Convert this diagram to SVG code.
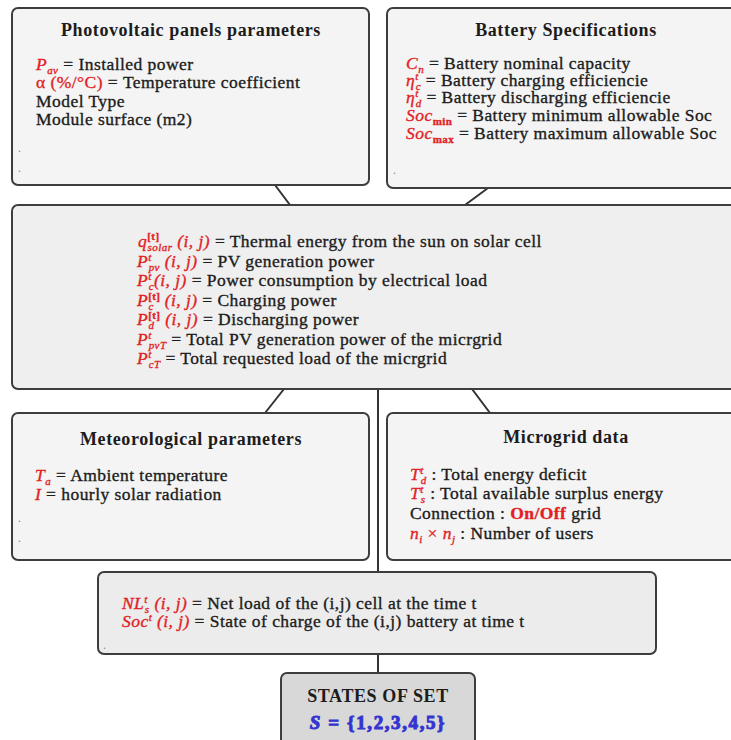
<svg xmlns="http://www.w3.org/2000/svg" width="731" height="740" viewBox="0 0 731 740" font-family="Liberation Serif, Times New Roman, DejaVu Serif, serif">
<style>
.bg{fill:#ffffff}
.box{fill:#f4f4f4;stroke:#3d3d3d;stroke-width:2}
.mid{fill:#efefef;stroke:#3d3d3d;stroke-width:2}
.nl{fill:#ececec;stroke:#3d3d3d;stroke-width:2}
.st{fill:#d8d8d8;stroke:#3d3d3d;stroke-width:2}
.c{stroke:#333333;stroke-width:2;fill:none}
.t{font-family:'Liberation Serif','Times New Roman',Times,serif;font-size:18px;font-weight:bold;fill:#1c1c1c;text-anchor:middle;letter-spacing:0.6px}
.b{font-family:'Liberation Serif','Times New Roman',Times,serif;font-size:17.5px;fill:#1c1c1c;stroke:#1c1c1c;stroke-width:0.35;letter-spacing:0.45px}
.m{fill:#e21f26;stroke:#e21f26;font-style:italic}
.r{fill:#e21f26;stroke:#e21f26}
.s{font-size:11px}
.d{font-size:12px;fill:#888888}
.blue{fill:#3434d0;stroke:#3434d0;font-weight:bold;font-size:19px;letter-spacing:1.6px}
</style>
<rect class="bg" x="0" y="0" width="731" height="740"/>

<g id="connectors">
<line class="c" x1="275" y1="185" x2="290" y2="205"/>
<line class="c" x1="488" y1="188" x2="465" y2="205"/>
<line class="c" x1="284" y1="389" x2="265" y2="413"/>
<line class="c" x1="472" y1="389" x2="490" y2="413"/>
<line class="c" x1="378" y1="389" x2="378" y2="572"/>
<line class="c" x1="378" y1="654" x2="378" y2="673"/>
</g>

<g id="pv-panels">
<rect class="box" x="12" y="8" width="357" height="177" rx="6"/>
<text class="t" x="191" y="36">Photovoltaic panels parameters</text>
<text class="b" x="36" y="70"><tspan class="m">P</tspan><tspan class="m s" dy="4">av</tspan><tspan dy="-4"> = Installed power</tspan></text>
<text class="b" x="36" y="88"><tspan class="r">α (%/°C)</tspan> = Temperature coefficient</text>
<text class="b" x="36" y="107">Model Type</text>
<text class="b" x="36" y="125">Module surface (m2)</text>
<text class="d" x="18" y="152">.</text>
<text class="d" x="18" y="172">.</text>
</g>

<g id="battery-specs">
<rect class="box" x="387" y="8" width="360" height="180" rx="6"/>
<text class="t" x="566" y="36">Battery Specifications</text>
<text class="b" x="406" y="69"><tspan class="m">C</tspan><tspan class="m s" dy="4">n</tspan><tspan dy="-4"> = Battery nominal capacity</tspan></text>
<text class="b" x="406" y="86"><tspan class="m">η</tspan><tspan class="m s" dy="-6">t</tspan><tspan class="m s" dx="-3" dy="10">c</tspan><tspan dy="-4"> = Battery charging efficiencie</tspan></text>
<text class="b" x="406" y="103"><tspan class="m">η</tspan><tspan class="m s" dy="-6">t</tspan><tspan class="m s" dx="-3" dy="10">d</tspan><tspan dy="-4"> = Battery discharging efficiencie</tspan></text>
<text class="b" x="406" y="121"><tspan class="m">Soc</tspan><tspan class="r s" font-weight="bold" dy="4">min</tspan><tspan dy="-4"> = Battery minimum allowable Soc</tspan></text>
<text class="b" x="406" y="139"><tspan class="m">Soc</tspan><tspan class="r s" font-weight="bold" dy="4">max</tspan><tspan dy="-4"> = Battery maximum allowable Soc</tspan></text>
<text class="d" x="393" y="174">.</text>
</g>

<g id="variables">
<rect class="mid" x="12" y="205" width="735" height="184" rx="6"/>
<text class="b" x="138" y="247"><tspan class="m">q</tspan><tspan class="r s" font-weight="bold" dy="-7">[t]</tspan><tspan class="m s" dx="-12" dy="11">solar</tspan><tspan class="m" dy="-4"> (i, j)</tspan><tspan> = Thermal energy from the sun on solar cell</tspan></text>
<text class="b" x="137" y="267"><tspan class="m">P</tspan><tspan class="m s" dy="-6">t</tspan><tspan class="m s" dx="-3" dy="10">pv</tspan><tspan class="m" dy="-4"> (i, j)</tspan><tspan> = PV generation power</tspan></text>
<text class="b" x="137" y="286"><tspan class="m">P</tspan><tspan class="m s" dy="-6">t</tspan><tspan class="m s" dx="-3" dy="10">c</tspan><tspan class="m" dy="-4">(i, j)</tspan><tspan> = Power consumption by electrical load</tspan></text>
<text class="b" x="137" y="306"><tspan class="m">P</tspan><tspan class="r s" font-weight="bold" dy="-6">[t]</tspan><tspan class="m s" dx="-12" dy="10">c</tspan><tspan class="m" dx="6" dy="-4"> (i, j)</tspan><tspan> = Charging power</tspan></text>
<text class="b" x="137" y="325"><tspan class="m">P</tspan><tspan class="r s" font-weight="bold" dy="-6">[t]</tspan><tspan class="m s" dx="-12" dy="10">d</tspan><tspan class="m" dx="6" dy="-4"> (i, j)</tspan><tspan> = Discharging power</tspan></text>
<text class="b" x="137" y="345"><tspan class="m">P</tspan><tspan class="m s" dy="-6">t</tspan><tspan class="m s" dx="-3" dy="10">pvT</tspan><tspan dy="-4"> = Total PV generation power of the micrgrid</tspan></text>
<text class="b" x="137" y="364"><tspan class="m">P</tspan><tspan class="m s" dy="-6">t</tspan><tspan class="m s" dx="-3" dy="10">cT</tspan><tspan dy="-4"> = Total requested load of the micrgrid</tspan></text>
</g>

<g id="meteorological">
<rect class="box" x="12" y="413" width="357" height="147" rx="6"/>
<text class="t" x="191" y="445">Meteorological parameters</text>
<text class="b" x="35" y="481"><tspan class="m">T</tspan><tspan class="m s" dy="4">a</tspan><tspan dy="-4"> = Ambient temperature</tspan></text>
<text class="b" x="35" y="500"><tspan class="m">I</tspan> = hourly solar radiation</text>
<text class="d" x="18" y="522">.</text>
<text class="d" x="18" y="542">.</text>
</g>

<g id="microgrid-data">
<rect class="box" x="387" y="413" width="360" height="147" rx="6"/>
<text class="t" x="566" y="443">Microgrid data</text>
<text class="b" x="410" y="480"><tspan class="m">T</tspan><tspan class="m s" dy="-6">t</tspan><tspan class="m s" dx="-3" dy="10">d</tspan><tspan dy="-4"> : Total energy deficit</tspan></text>
<text class="b" x="410" y="499"><tspan class="m">T</tspan><tspan class="m s" dy="-6">t</tspan><tspan class="m s" dx="-3" dy="10">s</tspan><tspan dy="-4"> : Total available surplus energy</tspan></text>
<text class="b" x="410" y="519">Connection : <tspan class="r" font-weight="bold">On/Off</tspan> grid</text>
<text class="b" x="410" y="539"><tspan class="m">n</tspan><tspan class="m s" dy="4">i</tspan><tspan class="r" dy="-4"> × </tspan><tspan class="m">n</tspan><tspan class="m s" dy="4">j</tspan><tspan dy="-4"> : Number of users</tspan></text>
</g>

<g id="net-load">
<rect class="nl" x="98" y="572" width="558" height="82" rx="6"/>
<text class="b" x="122" y="609"><tspan class="m">NL</tspan><tspan class="m s" dy="-6">t</tspan><tspan class="m s" dx="-3" dy="10">s</tspan><tspan class="m" dy="-4"> (i, j)</tspan><tspan> = Net load of the (i,j) cell at the time t</tspan></text>
<text class="b" x="122" y="627"><tspan class="m">Soc</tspan><tspan class="m s" dy="-6">t</tspan><tspan class="m" dy="6"> (i, j)</tspan><tspan> = State of charge of the (i,j) battery at time t</tspan></text>
<text class="d" x="103" y="649">.</text>
</g>

<g id="states-of-set">
<rect class="st" x="281" y="673" width="194" height="82" rx="6"/>
<text class="t" x="378" y="702">STATES OF SET</text>
<text class="t blue" x="378" y="729"><tspan font-style="italic">S</tspan> = {1,2,3,4,5}</text>
</g>
</svg>
